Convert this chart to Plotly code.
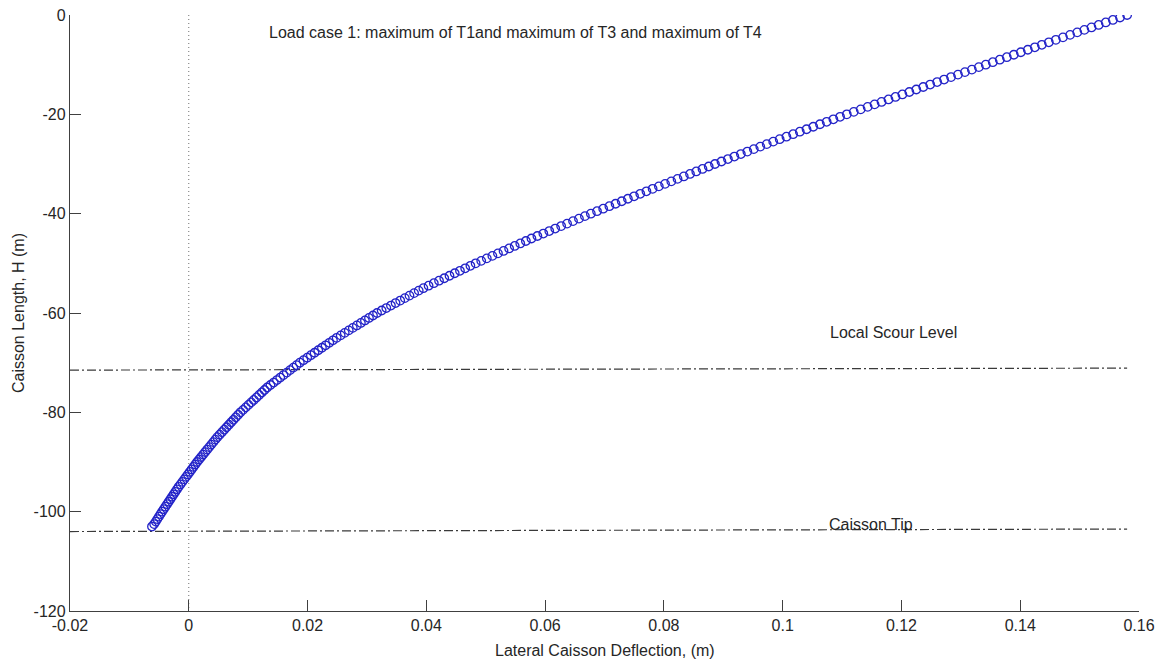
import plotly.graph_objects as go

# ---- data ----
depth = [
    0, -0.5, -1, -1.5, -2, -2.5, -3, -3.5, -4, -4.5,
    -5, -5.5, -6, -6.5, -7, -7.5, -8, -8.5, -9, -9.5,
    -10, -10.5, -11, -11.5, -12, -12.5, -13, -13.5, -14, -14.5,
    -15, -15.5, -16, -16.5, -17, -17.5, -18, -18.5, -19, -19.5,
    -20, -20.5, -21, -21.5, -22, -22.5, -23, -23.5, -24, -24.5,
    -25, -25.5, -26, -26.5, -27, -27.5, -28, -28.5, -29, -29.5,
    -30, -30.5, -31, -31.5, -32, -32.5, -33, -33.5, -34, -34.5,
    -35, -35.5, -36, -36.5, -37, -37.5, -38, -38.5, -39, -39.5,
    -40, -40.5, -41, -41.5, -42, -42.5, -43, -43.5, -44, -44.5,
    -45, -45.5, -46, -46.5, -47, -47.5, -48, -48.5, -49, -49.5,
    -50, -50.5, -51, -51.5, -52, -52.5, -53, -53.5, -54, -54.5,
    -55, -55.5, -56, -56.5, -57, -57.5, -58, -58.5, -59, -59.5,
    -60, -60.5, -61, -61.5, -62, -62.5, -63, -63.5, -64, -64.5,
    -65, -65.5, -66, -66.5, -67, -67.5, -68, -68.5, -69, -69.5,
    -70, -70.5, -71, -71.5, -72, -72.5, -73, -73.5, -74, -74.5,
    -75, -75.5, -76, -76.5, -77, -77.5, -78, -78.5, -79, -79.5,
    -80, -80.5, -81, -81.5, -82, -82.5, -83, -83.5, -84, -84.5,
    -85, -85.5, -86, -86.5, -87, -87.5, -88, -88.5, -89, -89.5,
    -90, -90.5, -91, -91.5, -92, -92.5, -93, -93.5, -94, -94.5,
    -95, -95.5, -96, -96.5, -97, -97.5, -98, -98.5, -99, -99.5,
    -100, -100.5, -101, -101.5, -102, -102.5, -103,
]

deflection = [
    0.15800, 0.15680, 0.15560, 0.15440, 0.15320, 0.15200, 0.15080, 0.14960, 0.14840, 0.14720,
    0.14600, 0.14482, 0.14364, 0.14246, 0.14128, 0.14010, 0.13892, 0.13774, 0.13656, 0.13538,
    0.13420, 0.13303, 0.13186, 0.13069, 0.12952, 0.12835, 0.12718, 0.12601, 0.12484, 0.12367,
    0.12250, 0.12133, 0.12016, 0.11899, 0.11782, 0.11665, 0.11548, 0.11431, 0.11314, 0.11197,
    0.11080, 0.10967, 0.10854, 0.10741, 0.10628, 0.10515, 0.10402, 0.10289, 0.10176, 0.10063,
    0.09950, 0.09841, 0.09732, 0.09623, 0.09514, 0.09405, 0.09296, 0.09187, 0.09078, 0.08969,
    0.08860, 0.08755, 0.08650, 0.08545, 0.08440, 0.08335, 0.08230, 0.08125, 0.08020, 0.07915,
    0.07810, 0.07706, 0.07602, 0.07498, 0.07394, 0.07290, 0.07186, 0.07082, 0.06978, 0.06874,
    0.06770, 0.06670, 0.06570, 0.06470, 0.06370, 0.06270, 0.06170, 0.06070, 0.05970, 0.05870,
    0.05770, 0.05676, 0.05582, 0.05488, 0.05394, 0.05300, 0.05206, 0.05112, 0.05018, 0.04924,
    0.04830, 0.04742, 0.04654, 0.04566, 0.04478, 0.04390, 0.04302, 0.04214, 0.04126, 0.04038,
    0.03950, 0.03872, 0.03794, 0.03716, 0.03638, 0.03560, 0.03482, 0.03404, 0.03326, 0.03248,
    0.03170, 0.03102, 0.03034, 0.02966, 0.02898, 0.02830, 0.02762, 0.02694, 0.02626, 0.02558,
    0.02490, 0.02428, 0.02366, 0.02304, 0.02242, 0.02180, 0.02118, 0.02056, 0.01994, 0.01932,
    0.01870, 0.01815, 0.01760, 0.01705, 0.01650, 0.01595, 0.01540, 0.01485, 0.01430, 0.01375,
    0.01320, 0.01275, 0.01230, 0.01185, 0.01140, 0.01095, 0.01050, 0.01005, 0.00960, 0.00915,
    0.00870, 0.00831, 0.00792, 0.00753, 0.00714, 0.00675, 0.00636, 0.00597, 0.00558, 0.00519,
    0.00480, 0.00446, 0.00412, 0.00378, 0.00344, 0.00310, 0.00276, 0.00242, 0.00208, 0.00174,
    0.00140, 0.00109, 0.00078, 0.00047, 0.00016, -0.00015, -0.00046, -0.00077, -0.00108, -0.00139,
    -0.00170, -0.00198, -0.00226, -0.00254, -0.00282, -0.00310, -0.00338, -0.00366, -0.00394, -0.00422,
    -0.00450, -0.00477, -0.00503, -0.00530, -0.00556, -0.00583, -0.00620,
]

level_x = [-0.02, 0.158]
scour_y = [-71.5, -71.1]
tip_y = [-104.0, -103.5]
zero_x = [0, 0]
zero_y = [0, -120]

x_ticks = [-0.02, 0, 0.02, 0.04, 0.06, 0.08, 0.1, 0.12, 0.14, 0.16]
x_tick_text = ["-0.02", "0", "0.02", "0.04", "0.06", "0.08", "0.1", "0.12", "0.14", "0.16"]
y_ticks = [-120, -100, -80, -60, -40, -20, 0]
y_tick_text = ["-120", "-100", "-80", "-60", "-40", "-20", "0"]

title_text = "Load case 1: maximum of T1and maximum of T3 and maximum of T4"
scour_label = "Local Scour Level"
tip_label = "Caisson Tip"
x_title = "Lateral Caisson Deflection, (m)"
y_title = "Caisson Length, H (m)"

FONT = "Liberation Sans, Arial, sans-serif"
TXT = "#262626"

fig = go.Figure()

fig.add_trace(go.Scatter(
    x=zero_x, y=zero_y, mode="lines",
    line=dict(color="#707070", width=1, dash="1px,3px"),
    hoverinfo="skip", showlegend=False,
))
fig.add_trace(go.Scatter(
    x=level_x, y=scour_y, mode="lines",
    line=dict(color="#3a3a3a", width=1.2, dash="9px,3px,2px,3px"),
    showlegend=False,
))
fig.add_trace(go.Scatter(
    x=level_x, y=tip_y, mode="lines",
    line=dict(color="#3a3a3a", width=1.2, dash="9px,3px,2px,3px"),
    showlegend=False,
))
fig.add_trace(go.Scatter(
    x=deflection, y=depth, mode="markers",
    marker=dict(symbol="circle-open", size=8.5, color="#2323c8",
                line=dict(width=1.3, color="#2323c8")),
    showlegend=False,
))

fig.add_annotation(x=0.0131, y=-3.6, text=title_text, showarrow=False,
                   xanchor="left", yanchor="middle",
                   font=dict(family=FONT, size=16, color=TXT))
fig.add_annotation(x=0.1077, y=-64.0, text=scour_label, showarrow=False,
                   xanchor="left", yanchor="middle",
                   font=dict(family=FONT, size=16, color=TXT))
fig.add_annotation(x=0.1074, y=-102.6, text=tip_label, showarrow=False,
                   xanchor="left", yanchor="middle",
                   font=dict(family=FONT, size=16, color=TXT))

fig.add_annotation(xref="paper", yref="paper", x=-0.0486, y=0.5,
                   text=y_title, textangle=-90, showarrow=False,
                   xanchor="center", yanchor="middle",
                   font=dict(family=FONT, size=16, color=TXT))
fig.add_annotation(xref="paper", yref="paper", x=0.5, y=-0.067,
                   text=x_title, showarrow=False,
                   xanchor="center", yanchor="middle",
                   font=dict(family=FONT, size=16, color=TXT))

axis_common = dict(
    showgrid=False, zeroline=False, showline=True, mirror=False,
    linecolor="#404040", linewidth=1.3,
    ticks="inside", ticklen=11, tickwidth=1.3, tickcolor="#404040",
    tickfont=dict(family=FONT, size=16, color=TXT),
    ticklabeloverflow="allow", automargin=False,
)

fig.update_layout(
    width=1160, height=662,
    margin=dict(l=70, r=21, t=15, b=51),
    paper_bgcolor="white", plot_bgcolor="white",
    xaxis=dict(range=[-0.02, 0.16], tickvals=x_ticks, ticktext=x_tick_text, **axis_common),
    yaxis=dict(range=[-120, 0], tickvals=y_ticks, ticktext=y_tick_text, **axis_common),
    showlegend=False,
    hovermode=False,
)

# remove the default page-body margin so the figure fills the window exactly
fig.write_html(
    "out.html",
    config={"displayModeBar": False},
    post_script="document.body.style.margin='0';document.body.style.overflow='hidden';",
)
